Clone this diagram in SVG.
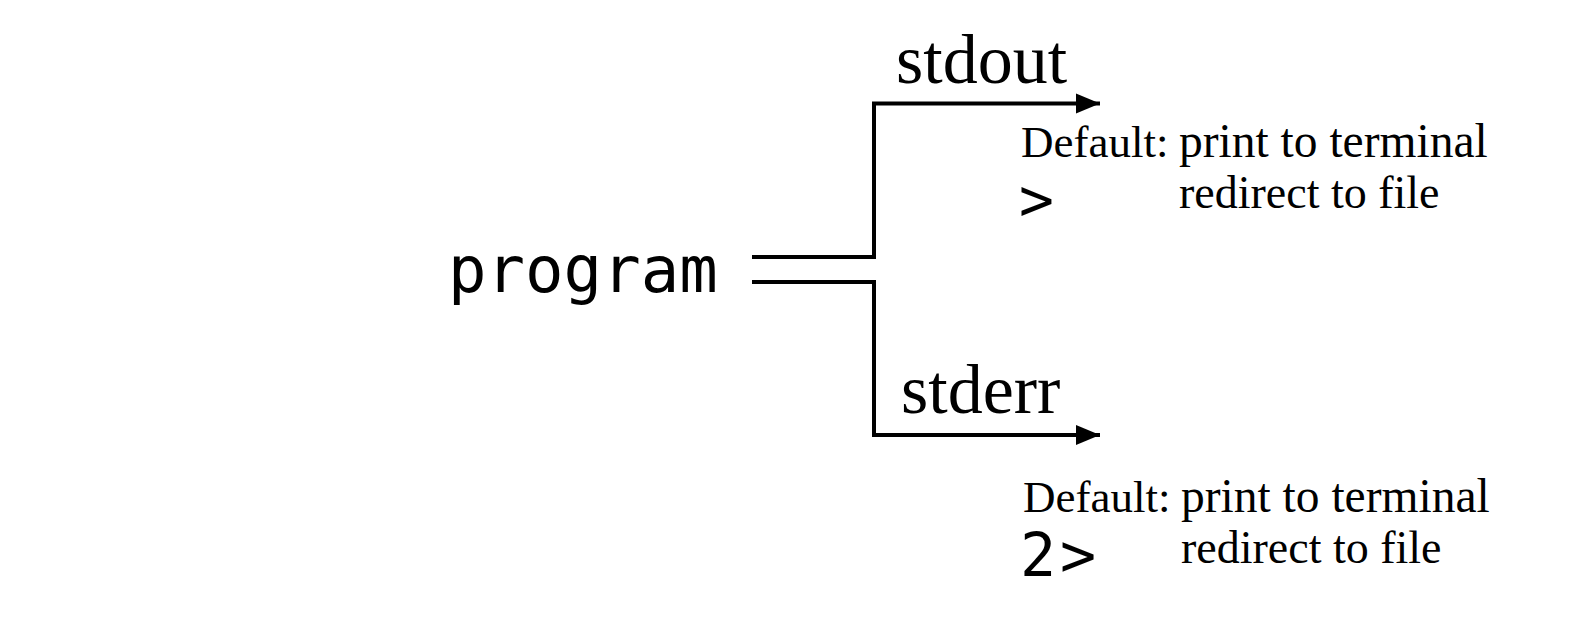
<svg xmlns="http://www.w3.org/2000/svg" width="1590" height="626" viewBox="0 0 1590 626">
<style>
.mono{font-family:"DejaVu Sans Mono","Liberation Mono",monospace;fill:#000}
.serif{font-family:"Liberation Serif","DejaVu Serif",serif;fill:#000}
.big{font-size:70px}
.lbl{font-size:47.5px}
.lbl2{font-size:46px}
.line{fill:none;stroke:#000;stroke-width:4}
</style>
<defs>
<marker id="arr" markerUnits="userSpaceOnUse" markerWidth="26" markerHeight="22" refX="24" refY="11" orient="auto">
<path d="M0,1 L24,11 L0,21 Z" fill="#000"/>
</marker>
</defs>
<rect width="1590" height="626" fill="#fff"/>
<g id="connectors">
<path class="line" d="M752,257 H874 V103.5 H1100" marker-end="url(#arr)"/>
<path class="line" d="M752,282 H874 V435 H1100" marker-end="url(#arr)"/>
</g>
<g id="program">
<text class="mono" x="448" y="292" font-size="64">program</text>
</g>
<g id="stdout">
<text class="serif big" x="896" y="83">stdout</text>
<text class="serif" x="1021" y="157" font-size="45">Default:</text>
<text class="serif lbl" x="1179" y="157">print to terminal</text>
<text class="mono" x="1019" y="220" font-size="58">&gt;</text>
<text class="serif lbl2" x="1179" y="208">redirect to file</text>
</g>
<g id="stderr">
<text class="serif big" x="901" y="413">stderr</text>
<text class="serif" x="1023" y="512" font-size="45">Default:</text>
<text class="serif lbl" x="1181" y="512">print to terminal</text>
<text class="mono" x="1020" y="576" font-size="60" letter-spacing="4">2&gt;</text>
<text class="serif lbl2" x="1181" y="563">redirect to file</text>
</g>
</svg>
